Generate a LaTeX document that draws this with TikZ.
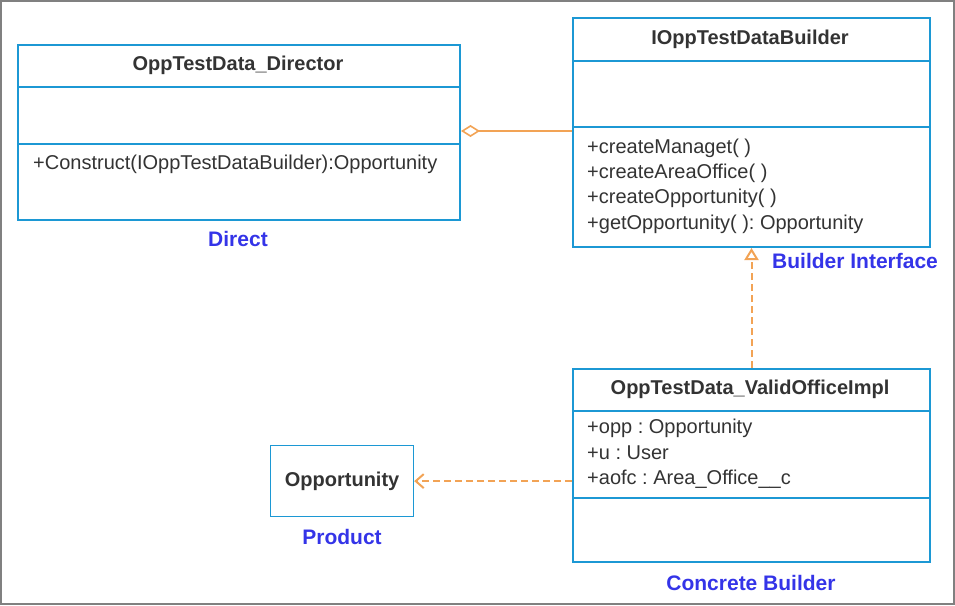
\documentclass[tikz,border=0pt]{standalone}
\usepackage{fontspec}
\setmainfont{Liberation Sans}
\usetikzlibrary{positioning,arrows.meta}

\definecolor{umlblue}{RGB}{28,152,212}
\definecolor{tagblue}{RGB}{52,52,232}
\definecolor{linkorange}{RGB}{242,163,85}
\definecolor{inkgray}{RGB}{51,51,51}
\frenchspacing

\begin{document}
\begin{tikzpicture}
            [
                x = 1pt,
                y = -1pt,
                every node/.style={
                    inner sep = 0pt,
                    text = inkgray,
                    font = \fontsize{20}{25.3}\selectfont
                },
                classbox/.style={
                    draw = umlblue,
                    line width = 2pt,
                    anchor = north west
                },
                productbox/.style={
                    draw = umlblue,
                    line width = 1.2pt,
                    anchor = north west
                },
                divider/.style={
                    draw = umlblue,
                    line width = 2pt
                },
                classname/.style={
                    font = \fontsize{20}{25}\selectfont\bfseries
                },
                members/.style={
                    anchor = west,
                    align = left
                },
                tag/.style={
                    text = tagblue,
                    font = \fontsize{21}{25}\selectfont\bfseries
                },
                link/.style={
                    draw = linkorange,
                    line width = 2pt
                },
            ]

                \useasboundingbox (0,0) rectangle (955,605);
                \draw [gray, line width = 1.5pt] (1,1) rectangle (954,604);

                % director
                \node [classbox, minimum width = 442pt, minimum height = 175pt] (director) at (17,44) {};
                \draw [divider] (director.west |- 0,87) -- (director.east |- 0,87);
                \draw [divider] (director.west |- 0,144) -- (director.east |- 0,144);
                \node [classname] (directorname) at (238,65) {OppTestData\_Director};
                \node [members] (directorops) at (33,164) {+Construct(IOppTestDataBuilder):Opportunity};
                \node [tag] (directtag) at (238,239) {Direct};

                % builder interface
                \node [classbox, minimum width = 357pt, minimum height = 229pt] (builder) at (572,17) {};
                \draw [divider] (builder.west |- 0,61) -- (builder.east |- 0,61);
                \draw [divider] (builder.west |- 0,127) -- (builder.east |- 0,127);
                \node [classname] (buildername) at (750,39) {IOppTestDataBuilder};
                \node [members] (builderops) at (587,186) {+createManaget( )\\+createAreaOffice( )\\+createOpportunity( )\\+getOpportunity( ): Opportunity};
                \node [tag, anchor = west] (buildertag) at (772,261) {Builder Interface};

                % concrete builder
                \node [classbox, minimum width = 357pt, minimum height = 193pt] (valid) at (572,368) {};
                \draw [divider] (valid.west |- 0,411) -- (valid.east |- 0,411);
                \draw [divider] (valid.west |- 0,498) -- (valid.east |- 0,498);
                \node [classname] (validname) at (750,389) {OppTestData\_ValidOfficeImpl};
                \node [members] (validattrs) at (587,454) {+opp : Opportunity\\+u : User\\+aofc : Area\_Office\_\_c};
                \node [tag] (concretetag) at (751,583) {Concrete Builder};

                % product
                \node [productbox, minimum width = 143pt, minimum height = 71pt] (product) at (270,445) {};
                \node [classname] (productname) at (product.center) {Opportunity};
                \node [tag] (producttag) at (342,537) {Product};

                % relations
                \draw [link, line width = 1.6pt, -{Diamond[open, length = 19pt, width = 12pt]}] (builder.west |- 0,131) -- (director.east |- 0,131);
                \draw [link, dash pattern = on 7pt off 4pt, -{Triangle[open, length = 12pt, width = 14pt]}] (valid.north) -- (builder.south);
                \draw [link, dash pattern = on 7pt off 4pt, -{Straight Barb[length = 8pt, width = 14pt]}] (valid.west |- product.east) -- (product.east);
            \end{tikzpicture}
\end{document}
